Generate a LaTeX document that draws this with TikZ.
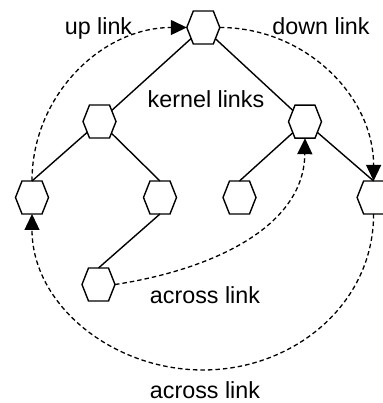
\documentclass[tikz,border=0pt]{standalone}
\usepackage{fontspec}
\setmainfont{Liberation Sans}
\usetikzlibrary{shapes.symbols,arrows.meta}
\begin{document}
\begin{tikzpicture}[x=1pt,y=1pt,
  hexnode/.style={signal, signal to=west and east, signal pointer angle=137,
    minimum width=33pt, minimum height=33pt, inner sep=0pt, outer sep=0pt,
    draw, line width=1.4pt, line join=miter},
  kernel/.style={line width=1.4pt},
  linkarc/.style={line width=1.3pt, dash pattern=on 4.5pt off 3pt,
    -{Triangle[length=16pt,width=15pt]}},
  lbl/.style={font=\fontsize{23.3}{27}\selectfont, anchor=base, inner sep=0pt}]
\useasboundingbox (0,0) rectangle (382,403);
% nodes
\node[hexnode] (top)   at (203.3,375.5) {};
\node[hexnode] (L2a)   at (99.5,281.5) {};
\node[hexnode] (L2b)   at (305,281.3) {};
\node[hexnode] (leaf1) at (32,205.5) {};
\node[hexnode] (leaf2) at (160,205.5) {};
\node[hexnode] (leaf3) at (239.5,205.5) {};
\node[hexnode] (leaf4) at (373.6,205.5) {};
\node[hexnode] (L4)    at (98.5,118.5) {};
\coordinate (bot) at (203,33);
% kernel links
\draw[kernel] (top) -- (L2a);
\draw[kernel] (top) -- (L2b);
\draw[kernel] (L2a) -- (leaf1.north);
\draw[kernel] (L2a) -- (leaf2.north);
\draw[kernel] (leaf2.south) -- (L4.north);
\draw[kernel] (L2b) -- (leaf3.north);
\draw[kernel] (L2b) -- (leaf4.north);
% dashed links
\draw[linkarc] (leaf1.north) to[out=90,in=180] (top.west);
\draw[linkarc] (top.east) to[out=0,in=90] (leaf4.north);
\draw[linkarc] (L4.east) .. controls (210,133) and (304,175) .. (L2b.south);
\draw[linkarc] (leaf4.south) to[out=-90,in=0] (bot) to[out=180,in=-90] (leaf1.south);
% labels
\node[lbl] (lup)     at (98.5,368.5) {up link};
\node[lbl] (ldown)   at (321,368.5) {down link};
\node[lbl] (lkernel) at (206,295) {kernel links};
\node[lbl] (lacr1)   at (205,99.7) {across link};
\node[lbl] (lacr2)   at (205,4.7) {across link};
\end{tikzpicture}
\end{document}
